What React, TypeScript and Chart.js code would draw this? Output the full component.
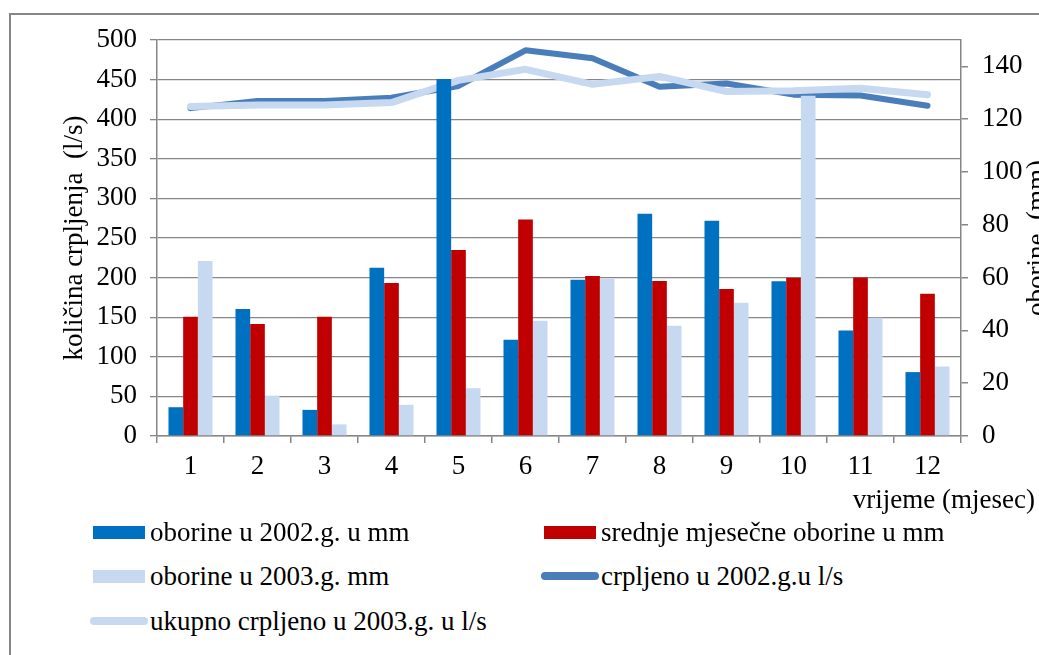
import React, { useEffect, useRef } from "react";
import { Chart, registerables } from "chart.js";

Chart.register(...registerables);

const months = ["1", "2", "3", "4", "5", "6", "7", "8", "9", "10", "11", "12"];
const rain2002 = [10.9, 48.1, 9.9, 63.7, 135.2, 36.5, 59.2, 84.2, 81.5, 58.6, 40.0, 24.2];
const rainAvg = [45.2, 42.4, 45.2, 58.0, 70.5, 82.0, 60.6, 58.7, 55.7, 59.9, 60.0, 53.9];
const rain2003 = [66.3, 15.3, 4.4, 11.8, 18.1, 43.7, 59.6, 41.8, 50.5, 128.9, 44.8, 26.3];
const pumped2002 = [414, 423, 423, 427, 442, 487, 477, 441, 445, 431, 430, 417];
const pumped2003 = [416, 418, 418, 421, 449, 463, 444, 454, 435, 436, 439, 431];

const seriesNames = [
  "oborine u 2002.g. u mm",
  "srednje mjesečne oborine u mm",
  "oborine u 2003.g. mm",
  "crpljeno u 2002.g.u l/s",
  "ukupno crpljeno u 2003.g. u l/s",
];
const leftTitle = "količina crpljenja  (l/s)";
const rightTitle = "oborine  (mm)";
const xTitle = "vrijeme (mjesec)";

const FONT = "'Liberation Serif', 'Times New Roman', serif";
const FS = 27;
const GRID = "#868686";
const C_BLUE = "#0070C0";
const C_RED = "#C00000";
const C_LIGHT = "#C6D9F1";
const C_LINE = "#4A7EBB";

const titlesPlugin = {
  id: "titles",
  afterDraw(chart: any) {
    const { ctx, chartArea } = chart;
    const cy = (chartArea.top + chartArea.bottom) / 2;
    ctx.save();
    ctx.fillStyle = "#000";
    ctx.font = `${FS}px ${FONT}`;
    ctx.textAlign = "center";
    ctx.textBaseline = "middle";
    ctx.save();
    ctx.translate(chartArea.left - 82, cy);
    ctx.rotate(-Math.PI / 2);
    ctx.fillText(leftTitle, 0, 0);
    ctx.restore();
    ctx.save();
    ctx.translate(chartArea.right + 77, cy);
    ctx.rotate(-Math.PI / 2);
    ctx.fillText(rightTitle, 0, 0);
    ctx.restore();
    ctx.textAlign = "right";
    ctx.fillText(xTitle, chartArea.right + 74, chartArea.bottom + 65);
    ctx.restore();
  },
};

function LegendItem({ kind, color, x, y, text }: any) {
  const sw =
    kind === "bar" ? (
      <div style={{ position: "absolute", left: x, top: y - 6.5, width: 52, height: 13, background: color }} />
    ) : (
      <div style={{ position: "absolute", left: x - 3, top: y - 4, width: 58, height: 8, borderRadius: 4, background: color }} />
    );
  return (
    <>
      {sw}
      <div
        style={{
          position: "absolute",
          left: x + 57,
          top: y - 16,
          height: 32,
          lineHeight: "32px",
          fontFamily: FONT,
          fontSize: FS,
          color: "#000",
          whiteSpace: "nowrap",
        }}
      >
        {text}
      </div>
    </>
  );
}

export default function App() {
  const ref = useRef<HTMLCanvasElement | null>(null);
  useEffect(() => {
    if (!ref.current) return;
    const font = { family: FONT, size: FS };
    const chart = new Chart(ref.current, {
      type: "bar",
      data: {
        labels: months,
        datasets: [
          { type: "bar", label: seriesNames[0], data: rain2002, backgroundColor: C_BLUE, yAxisID: "y1", order: 0 },
          { type: "bar", label: seriesNames[1], data: rainAvg, backgroundColor: C_RED, yAxisID: "y1", order: 0 },
          { type: "bar", label: seriesNames[2], data: rain2003, backgroundColor: C_LIGHT, yAxisID: "y1", order: 0 },
          {
            type: "line", label: seriesNames[3], data: pumped2002, borderColor: C_LINE, backgroundColor: C_LINE,
            borderWidth: 6, yAxisID: "y", order: 2, pointRadius: 0, borderCapStyle: "round", borderJoinStyle: "round", fill: false, tension: 0,
          },
          {
            type: "line", label: seriesNames[4], data: pumped2003, borderColor: C_LIGHT, backgroundColor: C_LIGHT,
            borderWidth: 7, yAxisID: "y", order: 1, pointRadius: 0, borderCapStyle: "round", borderJoinStyle: "round", fill: false, tension: 0,
          },
        ] as any,
      },
      options: {
        responsive: false,
        animation: false,
        layout: { padding: { left: 0, right: 0, top: 40, bottom: 0 } },
        plugins: { legend: { display: false }, tooltip: { enabled: false } },
        datasets: { bar: { categoryPercentage: 0.657, barPercentage: 1 } } as any,
        scales: {
          x: {
            grid: { offset: true, drawOnChartArea: false, drawTicks: true, tickLength: 7, color: GRID, lineWidth: 1.5 },
            border: { color: GRID, width: 1.5 },
            ticks: { font, color: "#000", padding: 8, maxRotation: 0, autoSkip: false },
            afterFit(s: any) { s.height = 84; },
          },
          y: {
            position: "left",
            min: 0,
            max: 500,
            ticks: { stepSize: 50, font, color: "#000", padding: 13 },
            grid: { color: GRID, lineWidth: 1.3, tickLength: 7 },
            border: { color: GRID, width: 1.5 },
            afterFit(s: any) { s.width = 157; },
          },
          y1: {
            position: "right",
            min: 0,
            max: 150,
            ticks: { stepSize: 20, includeBounds: false, font, color: "#000", padding: 14 },
            grid: { drawOnChartArea: false, tickLength: 7, color: GRID, lineWidth: 1.5 },
            border: { color: GRID, width: 1.5 },
            afterFit(s: any) { s.width = 78; },
          },
        } as any,
      },
      plugins: [titlesPlugin],
    });
    return () => chart.destroy();
  }, []);

  return (
    <div style={{ position: "fixed", left: 0, top: 0, width: 1039, height: 655, overflow: "hidden", background: "#fff" }}>
      <div
        style={{
          position: "absolute", left: 9, top: 13, width: 1200, height: 800,
          borderLeft: `2px solid ${GRID}`, borderTop: `2px solid ${GRID}`,
        }}
      />
      <canvas ref={ref} width={1039} height={520} style={{ position: "absolute", left: 0, top: 0, width: 1039, height: 520 }} />
      <LegendItem kind="bar" color={C_BLUE} x={93} y={532} text={seriesNames[0]} />
      <LegendItem kind="bar" color={C_RED} x={544} y={532} text={seriesNames[1]} />
      <LegendItem kind="bar" color={C_LIGHT} x={93} y={576} text={seriesNames[2]} />
      <LegendItem kind="line" color={C_LINE} x={544} y={576} text={seriesNames[3]} />
      <LegendItem kind="line" color={C_LIGHT} x={93} y={621} text={seriesNames[4]} />
    </div>
  );
}
